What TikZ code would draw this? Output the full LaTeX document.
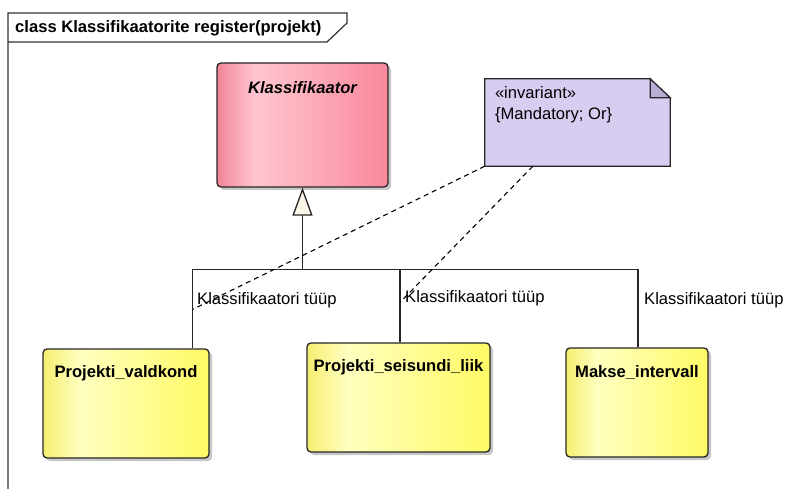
\documentclass[tikz,border=0pt]{standalone}
\usepackage{fontspec}
\setmainfont{Liberation Sans}
\usetikzlibrary{arrows.meta,shadows,calc,positioning}

\definecolor{pinkedge}{RGB}{242,132,152}
\definecolor{pinklight}{RGB}{255,198,208}
\definecolor{pinkright}{RGB}{250,136,156}
\definecolor{yelledge}{RGB}{246,238,112}
\definecolor{yelllight}{RGB}{255,255,192}
\definecolor{yellright}{RGB}{255,250,100}
\definecolor{notefill}{RGB}{216,204,240}
\definecolor{notefold}{RGB}{186,172,214}
\definecolor{tricream}{RGB}{252,246,232}

\pgfdeclarehorizontalshading{pinkshade}{100bp}{color(0bp)=(pinkedge); color(25bp)=(pinkedge); color(36bp)=(pinklight); color(75bp)=(pinkright); color(100bp)=(pinkright)}
\pgfdeclarehorizontalshading{yellowshade}{100bp}{color(0bp)=(yelledge); color(25bp)=(yelledge); color(36bp)=(yelllight); color(75bp)=(yellright); color(100bp)=(yellright)}

\begin{document}
\begin{tikzpicture}[x=1pt,y=-1pt,
  framepen/.style={draw=black!80, line width=1.2pt},
  classbox/.style={draw=black!85, line width=1.3pt, rounded corners=4pt, inner sep=0pt,
    drop shadow={shadow xshift=3pt, shadow yshift=-3pt, fill=black!22, opacity=1}},
  boxtitle/.style={anchor=center, yshift=-25pt, label distance=0pt, font=\bfseries\fontsize{16.6}{19}\selectfont},
  genline/.style={draw=black!85, line width=1.3pt},
  notelink/.style={draw=black, line width=1.1pt, dash pattern=on 5pt off 4pt},
  roletext/.style={inner sep=0pt, font=\fontsize{16.6}{19}\selectfont},
  notetext/.style={inner sep=0pt, align=left, font=\fontsize{16.6}{21}\selectfont}]
 \useasboundingbox (0,0) rectangle (800,489);
 %
 % diagram frame
 \draw[framepen] (8,492) -- (8,13) -- (347,13) -- (347,23) -- (327,42) -- (8,42);
 \node[inner sep=0pt, anchor=west, font=\bfseries\fontsize{16.6}{19}\selectfont] (title) at (15,28) {class Klassifikaatorite register(projekt)};
 %
 % classes
 \node[classbox, shading=pinkshade, minimum width=171pt, minimum height=124pt,
   label={[boxtitle, font=\bfseries\itshape\fontsize{16.6}{19}\selectfont]north:Klassifikaator}] (klass) at (302.5,125) {};
 \node[classbox, shading=yellowshade, minimum width=166pt, minimum height=109pt,
   label={[boxtitle]north:Projekti\_valdkond}] (valdkond) at (126,403.5) {};
 \node[classbox, shading=yellowshade, minimum width=183pt, minimum height=109pt,
   label={[boxtitle]north:Projekti\_seisundi\_liik}] (seisund) at (398.5,397.5) {};
 \node[classbox, shading=yellowshade, minimum width=142pt, minimum height=109pt,
   label={[boxtitle]north:Makse\_intervall}] (makse) at (637,402.5) {};
 %
 % constraint note
 \node[minimum width=185pt, minimum height=87pt, inner sep=0pt] (inv) at (577.5,122.5) {};
 \filldraw[fill=notefill, draw=black!85, line width=1.2pt] (inv.south west) -- (inv.north west)
   -- ($(inv.north east)+(-20,0)$) -- ($(inv.north east)+(0,19)$) -- (inv.south east) -- cycle;
 \filldraw[fill=notefold, draw=black!85, line width=1.2pt] ($(inv.north east)+(-20,0)$)
   -- ($(inv.north east)+(-20,19)$) -- ($(inv.north east)+(0,19)$) -- cycle;
 \node[notetext, anchor=north west] (invtext) at ($(inv.north west)+(10,7)$) {«invariant»\\\{Mandatory; Or\}};
 %
 % generalization tree
 \coordinate (split) at ($(klass.south)+(0,82)$);
 \draw[genline, -{Triangle[length=28pt, width=20pt, fill=tricream]}] (split) -- (klass.south);
 \draw[genline] ($(valdkond.north east)+(-17,0)$) |- (split);
 \draw[genline] ($(seisund.north)+(1.5,0)$) |- (split);
 \draw[genline] ($(makse.north)+(1,0)$) |- (split);
 %
 % note links
 \coordinate (hit1) at ($(valdkond.north east)+(-17,-39)$);
 \coordinate (hit2) at ($(seisund.north)+(1.5,-40)$);
 \draw[notelink] (inv.south west) -- (hit1);
 \draw[notelink] ($(inv.south west)+(48,0)$) -- (hit2);
 %
 % role names
 \node[roletext, anchor=west] (role1) at (197,300) {Klassifikaatori tüüp};
 \node[roletext, anchor=west] (role2) at (405,298) {Klassifikaatori tüüp};
 \node[roletext, anchor=west] (role3) at (644,300) {Klassifikaatori tüüp};
\end{tikzpicture}
\end{document}
